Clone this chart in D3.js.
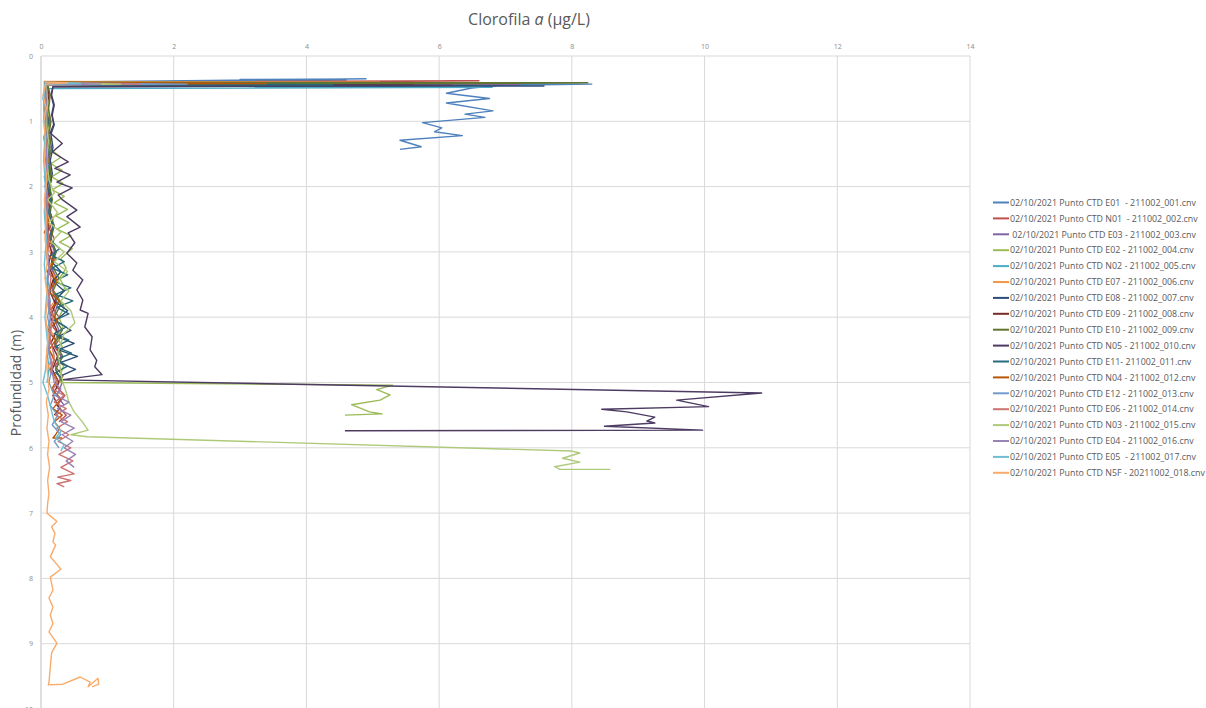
<!DOCTYPE html>
<html><head><meta charset="utf-8">
<script src="https://cdn.jsdelivr.net/npm/d3@7"></script>
<style>body{margin:0;background:#fff;}svg{display:block;font-family:"Open Sans","Noto Sans",sans-serif;}</style>
</head><body><svg id="c" width="1206" height="708"></svg>
<script>
// ---- data: [depth (m), chlorophyll a (µg/L)] ----
const xTicks = [0,2,4,6,8,10,12,14];
const yTicks = [0,1,2,3,4,5,6,7,8,9,10];
const seriesNames = [
 "02/10/2021 Punto CTD E01  - 211002_001.cnv",
 "02/10/2021 Punto CTD N01  - 211002_002.cnv",
 " 02/10/2021 Punto CTD E03 - 211002_003.cnv",
 "02/10/2021 Punto CTD E02 - 211002_004.cnv",
 "02/10/2021 Punto CTD N02 - 211002_005.cnv",
 "02/10/2021 Punto CTD E07 - 211002_006.cnv",
 "02/10/2021 Punto CTD E08 - 211002_007.cnv",
 "02/10/2021 Punto CTD E09 - 211002_008.cnv",
 "02/10/2021 Punto CTD E10 - 211002_009.cnv",
 "02/10/2021 Punto CTD N05 - 211002_010.cnv",
 "02/10/2021 Punto CTD E11- 211002_011.cnv",
 "02/10/2021 Punto CTD N04 - 211002_012.cnv",
 "02/10/2021 Punto CTD E12 - 211002_013.cnv",
 "02/10/2021 Punto CTD E06 - 211002_014.cnv",
 "02/10/2021 Punto CTD N03 - 211002_015.cnv",
 "02/10/2021 Punto CTD E04 - 211002_016.cnv",
 "02/10/2021 Punto CTD E05  - 211002_017.cnv",
 "02/10/2021 Punto CTD N5F - 20211002_018.cnv"];
const seriesColors = ["#4F81BD","#C0504D","#8064A2","#9BBB59","#4BACC6","#F79646","#2C4D75","#772C2A","#5F7530","#4D3B62","#276A7C","#B65708","#729ACA","#CD7371","#AFC97A","#9983B5","#6FBDD1","#F9AB6B"];

const E01 = [[0.40,0.08],[0.35,4.9],[0.36,3.0],[0.37,4.6],[0.38,3.6],[0.40,0.1],[0.43,8.3],[0.45,6.9],[0.49,6.49],[0.57,6.11],[0.65,6.76],[0.72,6.11],[0.84,6.81],[0.89,6.39],[0.94,6.69],[1.02,5.75],[1.10,6.04],[1.16,5.93],[1.22,6.35],[1.29,5.41],[1.39,5.73],[1.43,5.41]];
const N01 = [[0.40,0.06],[0.38,6.6],[0.42,0.12],[0.55,0.09],[0.7,0.13],[0.85,0.1],[1.0,0.14],[1.15,0.11],[1.3,0.15],[1.45,0.1],[1.6,0.14],[1.75,0.12],[1.9,0.16],[2.05,0.11],[2.2,0.15],[2.35,0.12],[2.5,0.18],[2.65,0.13],[2.8,0.2],[2.95,0.14],[3.1,0.22],[3.25,0.15],[3.4,0.24],[3.55,0.16],[3.7,0.26],[3.85,0.17],[4.0,0.27],[4.15,0.18],[4.3,0.3],[4.45,0.2],[4.6,0.31],[4.75,0.21],[4.9,0.33],[5.05,0.22],[5.2,0.36],[5.35,0.24],[5.5,0.38],[5.6,0.27]];
const E03 = [[0.41,0.07],[0.44,7.2],[0.45,0.1],[0.6,0.12],[0.8,0.09],[1.0,0.13],[1.2,0.1],[1.4,0.14],[1.6,0.11],[1.8,0.15],[2.0,0.12],[2.2,0.16],[2.4,0.13],[2.6,0.18],[2.8,0.14],[3.0,0.2],[3.2,0.15],[3.4,0.22],[3.6,0.17],[3.8,0.25],[4.0,0.19],[4.2,0.27],[4.4,0.2],[4.6,0.3],[4.8,0.22],[5.0,0.32],[5.2,0.24],[5.35,0.35]];
const E02 = [[0.41,0.08],[0.44,2.85],[0.43,2.0],[0.44,0.1],[0.6,0.09],[0.8,0.12],[1.0,0.1],[1.2,0.13],[1.4,0.11],[1.55,0.3],[1.65,0.15],[1.75,0.32],[1.85,0.16],[1.95,0.33],[2.05,0.17],[2.15,0.35],[2.25,0.2],[2.35,0.4],[2.45,0.22],[2.55,0.42],[2.65,0.24],[2.75,0.45],[2.85,0.28],[2.95,0.47],[3.1,0.3],[3.25,0.38],[3.4,0.28],[3.55,0.36],[3.7,0.26],[3.85,0.35],[4.0,0.27],[4.15,0.33],[4.3,0.24],[4.45,0.32],[4.6,0.25],[4.75,0.34],[4.9,0.28],[5.0,0.3],[5.04,5.30],[5.11,5.06],[5.19,5.26],[5.27,5.11],[5.34,4.68],[5.45,4.95],[5.48,5.14],[5.50,4.58]];
const N02 = [[0.40,0.05],[0.42,0.09],[0.48,3.97],[0.47,5.2],[0.48,6.8],[0.5,0.06],[0.65,0.03],[0.8,0.07],[0.95,0.04],[1.1,0.08],[1.25,0.04],[1.4,0.07],[1.55,0.05],[1.7,0.09],[1.85,0.05],[2.0,0.08],[2.2,0.06],[2.4,0.1],[2.6,0.07],[2.8,0.11],[3.0,0.08],[3.2,0.13],[3.4,0.09],[3.6,0.14],[3.8,0.1],[4.0,0.15],[4.2,0.09],[4.4,0.13],[4.6,0.1],[4.8,0.12],[5.0,0.09]];
const E07 = [[0.39,0.04],[0.40,5.1],[0.42,0.06],[0.55,0.05],[0.7,0.09],[0.85,0.05],[1.0,0.1],[1.15,0.06],[1.3,0.1],[1.45,0.07],[1.6,0.11],[1.75,0.07],[1.9,0.12],[2.05,0.08],[2.2,0.13],[2.35,0.07],[2.5,0.12],[2.65,0.09],[2.8,0.16],[2.95,0.1],[3.1,0.2],[3.25,0.11],[3.4,0.23],[3.55,0.12],[3.7,0.25],[3.85,0.13],[4.0,0.22],[4.15,0.12],[4.3,0.2],[4.45,0.1],[4.6,0.18],[4.75,0.11],[4.85,0.15]];
const E08 = [[0.42,0.08],[0.46,7.58],[0.47,0.18],[0.6,0.15],[0.75,0.19],[0.9,0.16],[1.05,0.2],[1.2,0.15],[1.4,0.18],[1.6,0.14],[1.8,0.17],[2.0,0.13],[2.2,0.16],[2.4,0.14],[2.6,0.18],[2.8,0.15],[3.0,0.22],[3.15,0.16],[3.3,0.3],[3.45,0.18],[3.6,0.35],[3.75,0.2],[3.9,0.4],[4.05,0.22],[4.2,0.45],[4.3,0.25],[4.4,0.5],[4.5,0.26],[4.6,0.55],[4.7,0.28],[4.8,0.52],[4.9,0.3]];
const E09 = [[0.41,0.05],[0.44,5.6],[0.45,0.09],[0.6,0.12],[0.8,0.08],[1.0,0.11],[1.2,0.07],[1.4,0.1],[1.6,0.08],[1.8,0.12],[2.0,0.09],[2.2,0.13],[2.4,0.08],[2.6,0.12],[2.8,0.1],[3.0,0.16],[3.2,0.11],[3.4,0.19],[3.6,0.13],[3.8,0.22],[4.0,0.14],[4.2,0.24],[4.4,0.15],[4.6,0.25],[4.8,0.17],[5.0,0.27],[5.2,0.18],[5.4,0.28],[5.5,0.2]];
const E10 = [[0.40,0.07],[0.41,8.24],[0.42,6.5],[0.43,0.1],[0.6,0.14],[0.8,0.11],[1.0,0.15],[1.2,0.12],[1.4,0.16],[1.6,0.12],[1.8,0.15],[2.0,0.13],[2.2,0.17],[2.4,0.13],[2.6,0.2],[2.8,0.15],[3.0,0.23],[3.2,0.16],[3.4,0.27],[3.6,0.18],[3.8,0.3],[4.0,0.2],[4.2,0.32],[4.4,0.21],[4.6,0.33],[4.8,0.22],[4.95,0.3]];
const N05 = [[0.42,0.1],[0.45,6.2],[0.47,0.18],[0.6,0.16],[0.75,0.2],[0.9,0.17],[1.05,0.19],[1.18,0.14],[1.34,0.32],[1.47,0.17],[1.62,0.41],[1.72,0.21],[1.82,0.44],[1.93,0.24],[2.02,0.47],[2.13,0.26],[2.2,0.32],[2.36,0.54],[2.46,0.39],[2.62,0.59],[2.71,0.41],[2.86,0.51],[3.02,0.39],[3.17,0.54],[3.28,0.48],[3.43,0.63],[3.58,0.54],[3.74,0.63],[3.89,0.59],[3.94,0.71],[4.15,0.66],[4.30,0.77],[4.50,0.74],[4.66,0.84],[4.76,0.81],[4.88,0.92],[4.93,0.54],[4.96,0.3],[5.16,10.86],[5.27,9.58],[5.37,10.06],[5.41,8.45],[5.45,8.83],[5.53,9.25],[5.59,9.13],[5.62,9.25],[5.67,8.49],[5.73,9.97],[5.74,4.58]];
const E11 = [[0.42,0.06],[0.44,4.4],[0.45,0.08],[0.6,0.1],[0.8,0.07],[1.0,0.11],[1.2,0.08],[1.4,0.12],[1.6,0.09],[1.8,0.13],[2.0,0.1],[2.2,0.15],[2.4,0.11],[2.6,0.18],[2.8,0.12],[2.95,0.28],[3.05,0.15],[3.15,0.35],[3.25,0.17],[3.35,0.4],[3.45,0.2],[3.55,0.45],[3.65,0.22],[3.75,0.48],[3.85,0.24],[3.95,0.42],[4.05,0.2],[4.15,0.38],[4.25,0.2],[4.35,0.42],[4.45,0.22],[4.55,0.46],[4.65,0.24],[4.75,0.4],[4.85,0.22],[4.92,0.3]];
const N04 = [[0.40,0.05],[0.42,3.4],[0.43,0.07],[0.6,0.1],[0.8,0.06],[1.0,0.09],[1.2,0.06],[1.4,0.1],[1.6,0.07],[1.8,0.11],[2.0,0.07],[2.2,0.1],[2.4,0.06],[2.55,0.12],[2.7,0.05],[2.85,0.15],[3.0,0.07],[3.15,0.2],[3.3,0.09],[3.45,0.25],[3.6,0.1],[3.75,0.28],[3.9,0.12],[4.05,0.25],[4.2,0.1],[4.35,0.22],[4.5,0.12],[4.65,0.2],[4.8,0.14],[4.95,0.25],[5.1,0.16],[5.25,0.3],[5.4,0.18],[5.5,0.32],[5.6,0.2],[5.7,0.28],[5.8,0.22],[5.85,0.18],[5.85,0.32]];
const E12 = [[0.41,0.04],[0.43,2.2],[0.44,0.06],[0.6,0.05],[0.8,0.08],[1.0,0.05],[1.25,0.08],[1.5,0.05],[1.75,0.09],[2.0,0.06],[2.25,0.1],[2.5,0.07],[2.75,0.11],[3.0,0.08],[3.25,0.13],[3.5,0.09],[3.75,0.14],[4.0,0.1],[4.25,0.15],[4.5,0.11],[4.75,0.17],[5.0,0.12],[5.2,0.2],[5.35,0.14],[5.5,0.25],[5.65,0.17],[5.8,0.3],[5.9,0.2],[6.0,0.27]];
const E06 = [[0.41,0.05],[0.43,1.5],[0.44,0.07],[0.7,0.06],[1.0,0.09],[1.3,0.06],[1.6,0.1],[1.9,0.07],[2.2,0.11],[2.5,0.08],[2.8,0.12],[3.1,0.09],[3.4,0.15],[3.7,0.11],[4.0,0.18],[4.3,0.13],[4.6,0.2],[4.85,0.15],[5.0,0.25],[5.1,0.18],[5.2,0.35],[5.3,0.2],[5.4,0.38],[5.5,0.22],[5.6,0.4],[5.7,0.24],[5.8,0.42],[5.9,0.26],[6.0,0.45],[6.1,0.27],[6.2,0.48],[6.3,0.3],[6.4,0.5],[6.45,0.25],[6.5,0.45],[6.55,0.24],[6.6,0.35]];
const N03 = [[0.41,0.06],[0.43,1.2],[0.44,0.08],[0.7,0.1],[1.0,0.08],[1.3,0.11],[1.6,0.09],[1.9,0.12],[2.1,0.2],[2.2,0.1],[2.4,0.25],[2.55,0.12],[2.7,0.3],[2.85,0.15],[3.0,0.35],[3.15,0.2],[3.3,0.4],[3.45,0.25],[3.6,0.42],[3.75,0.3],[3.9,0.45],[4.09,0.51],[4.25,0.35],[4.4,0.3],[4.55,0.25],[4.7,0.28],[4.85,0.3],[5.0,0.33],[5.15,0.38],[5.3,0.42],[5.45,0.5],[5.6,0.62],[5.73,0.71],[5.8,0.45],[5.83,0.7],[6.05,8.0],[6.08,8.12],[6.16,7.86],[6.22,8.12],[6.29,7.74],[6.33,7.82],[6.33,8.58]];
const E04 = [[0.41,0.05],[0.43,0.9],[0.44,0.07],[0.8,0.08],[1.2,0.06],[1.6,0.09],[2.0,0.07],[2.4,0.1],[2.8,0.08],[3.2,0.12],[3.6,0.09],[4.0,0.14],[4.4,0.11],[4.8,0.16],[5.0,0.2],[5.1,0.3],[5.2,0.22],[5.3,0.42],[5.4,0.25],[5.5,0.45],[5.6,0.3],[5.7,0.5],[5.8,0.32],[5.9,0.48],[6.0,0.35],[6.1,0.52],[6.2,0.38],[6.3,0.5]];
const E05 = [[0.40,0.04],[0.42,0.6],[0.43,0.05],[0.8,0.04],[1.2,0.06],[1.6,0.04],[2.0,0.07],[2.4,0.05],[2.8,0.08],[3.2,0.05],[3.6,0.09],[4.0,0.06],[4.4,0.1],[4.8,0.07],[5.0,0.03],[5.2,0.1],[5.4,0.15],[5.6,0.2],[5.75,0.3],[5.85,0.22],[5.95,0.35],[6.05,0.3]];
const N5F = [[0.40,0.06],[0.41,0.4],[0.43,0.07],[0.6,0.03],[0.8,0.08],[1.0,0.04],[1.3,0.07],[1.6,0.05],[1.9,0.09],[2.2,0.05],[2.5,0.08],[2.8,0.06],[3.1,0.1],[3.4,0.06],[3.7,0.1],[4.0,0.07],[4.3,0.11],[4.6,0.08],[4.9,0.1],[5.1,0.12],[5.3,0.08],[5.5,0.11],[5.7,0.09],[5.9,0.12],[6.1,0.1],[6.3,0.13],[6.5,0.1],[6.7,0.12],[6.85,0.1],[7.0,0.09],[7.13,0.24],[7.21,0.16],[7.31,0.21],[7.44,0.18],[7.49,0.22],[7.67,0.14],[7.75,0.21],[7.86,0.3],[7.98,0.14],[8.18,0.18],[8.3,0.12],[8.44,0.18],[8.56,0.14],[8.69,0.18],[8.82,0.12],[8.99,0.24],[9.14,0.16],[9.36,0.14],[9.59,0.12],[9.63,0.11],[9.62,0.33],[9.51,0.59],[9.59,0.74],[9.66,0.71],[9.53,0.86],[9.62,0.87],[9.66,0.77]];
const seriesData = [E01,N01,E03,E02,N02,E07,E08,E09,E10,N05,E11,N04,E12,E06,N03,E04,E05,N5F];

// ---- drawing ----
const svg = d3.select("#c");
const L = 41, R = 970, T = 56, B = 709;
const x = d3.scaleLinear().domain([0,14]).range([L,R]);
const y = d3.scaleLinear().domain([0,10]).range([T,B]);

const g = svg.append("g");
g.selectAll("line.vg").data(xTicks).join("line")
  .attr("x1",d=>x(d)).attr("x2",d=>x(d)).attr("y1",T).attr("y2",B)
  .attr("stroke",d=>d===0?"#bfbfbf":"#d9d9d9").attr("stroke-width",1);
g.selectAll("line.hg").data(yTicks).join("line")
  .attr("x1",L).attr("x2",R).attr("y1",d=>y(d)).attr("y2",d=>y(d))
  .attr("stroke","#d9d9d9").attr("stroke-width",1);

const xAxis = d3.axisTop(x).tickValues(xTicks).tickSize(0).tickPadding(7);
const ax = svg.append("g").attr("transform",`translate(0,${T})`).call(xAxis);
ax.select(".domain").remove();
ax.selectAll("text").attr("fill","#8c8c8c").style("font-size","7px").style("font-family","'Open Sans',sans-serif");
const yAxis = d3.axisLeft(y).tickValues(yTicks).tickSize(0).tickPadding(8);
const ay = svg.append("g").attr("transform",`translate(${L},0)`).call(yAxis);
ay.select(".domain").remove();
ay.selectAll("text").attr("fill","#8c8c8c").style("font-size","7px").style("font-family","'Open Sans',sans-serif");

const line = d3.line().x(d=>x(d[1])).y(d=>y(d[0])).curve(d3.curveLinear);
svg.append("g").selectAll("path").data(seriesData).join("path")
  .attr("d",d=>line(d)).attr("fill","none")
  .attr("stroke",(d,i)=>seriesColors[i]).attr("stroke-width",1.4)
  .attr("stroke-linejoin","round");

const title = svg.append("text").attr("x",529).attr("y",25).attr("text-anchor","middle")
  .attr("fill","#595959").style("font-size","16px");
title.append("tspan").text("Clorofila ");
title.append("tspan").attr("font-style","italic").text("a");
title.append("tspan").text(" (µg/L)");

svg.append("text").attr("transform","translate(21,383) rotate(-90)").attr("text-anchor","middle")
  .attr("fill","#595959").style("font-size","14px").text("Profundidad (m)");

const lg = svg.append("g").selectAll("g").data(seriesNames).join("g")
  .attr("transform",(d,i)=>`translate(993,${202.5+i*15.9})`);
lg.append("line").attr("x1",0).attr("x2",16).attr("y1",0).attr("y2",0)
  .attr("stroke",(d,i)=>seriesColors[i]).attr("stroke-width",2);
lg.append("text").attr("x",17).attr("y",3.2).attr("fill","#595959")
  .style("font-size","8.85px").style("white-space","pre").text(d=>d);
</script></body></html>
